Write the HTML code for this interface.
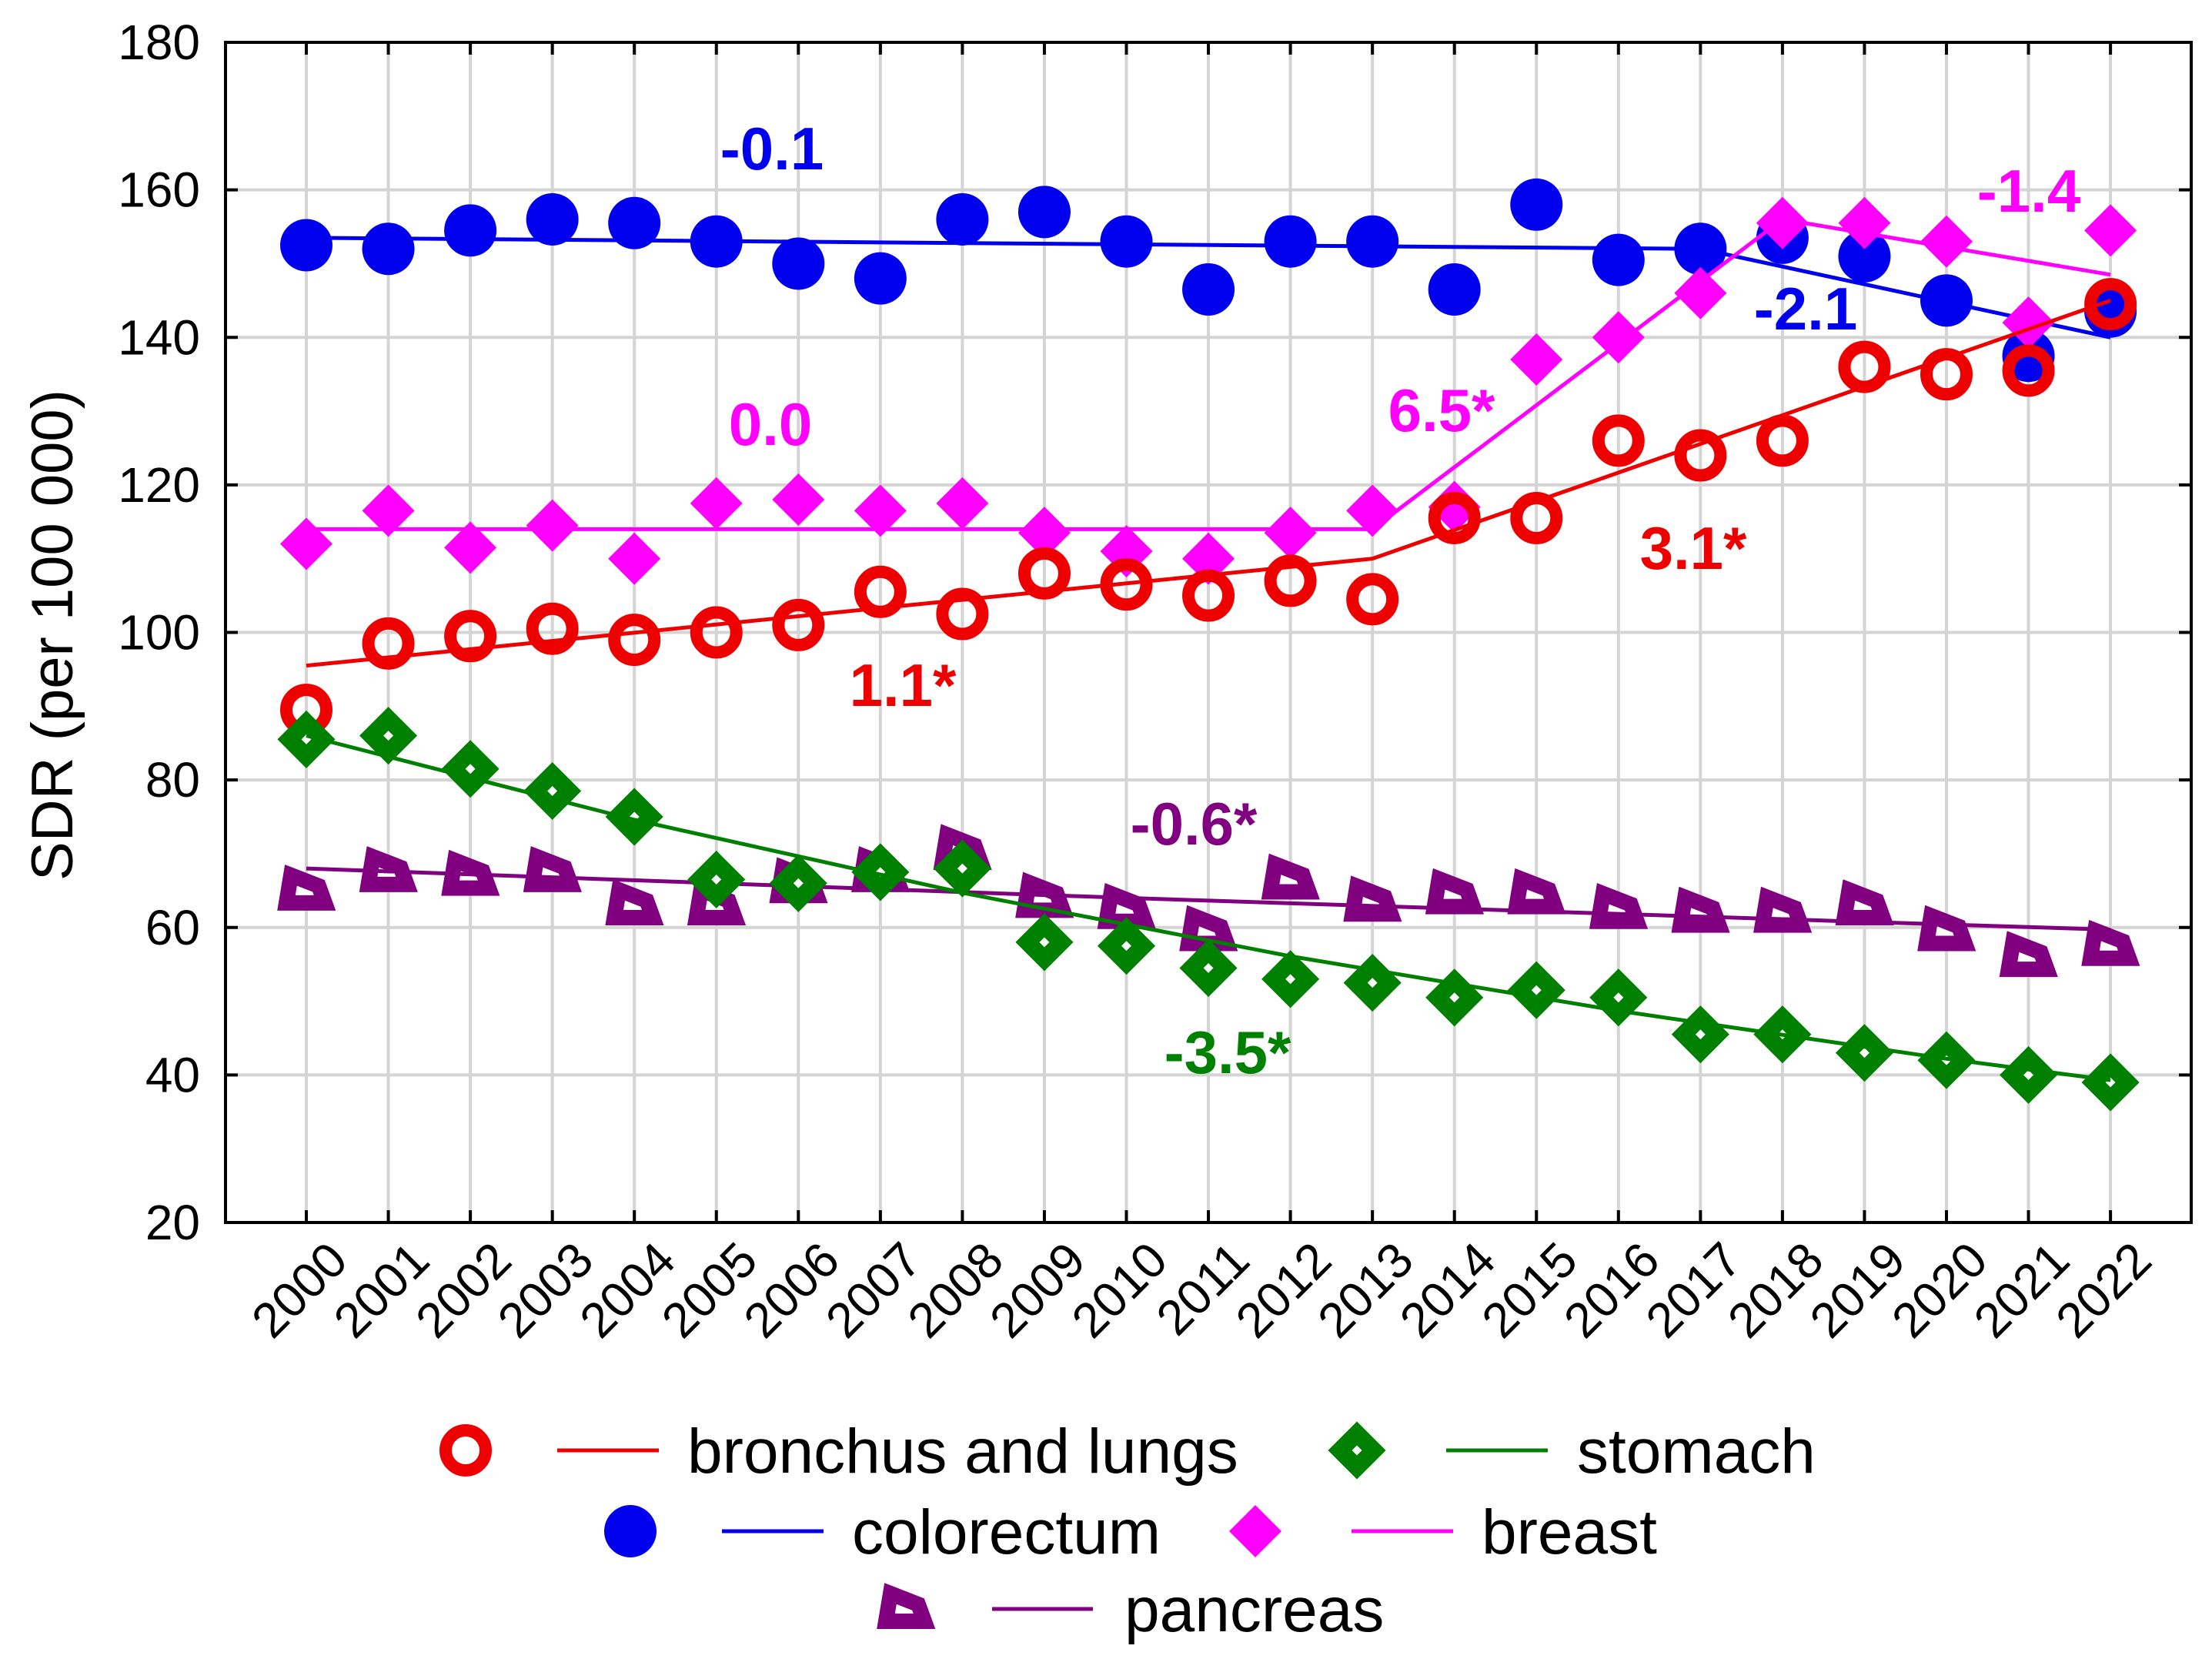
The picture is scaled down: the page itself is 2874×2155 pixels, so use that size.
<!DOCTYPE html>
<html><head><meta charset="utf-8"><style>
html,body{margin:0;padding:0;background:#fff;}
svg{display:block;font-family:"Liberation Sans",Arial,sans-serif;}
</style></head><body>
<svg id="chart" width="2874" height="2155" viewBox="0 0 2874 2155" xmlns="http://www.w3.org/2000/svg">
<g id="grid"></g>
<g id="series"></g>
<rect x="293" y="55" width="2554" height="1533" fill="none" stroke="#000" stroke-width="4"/>
<g id="axes"></g>
<text transform="translate(94,825) rotate(-90)" text-anchor="middle" font-size="76" fill="#000">SDR (per 100 000)</text>
<g id="annots" font-weight="bold" font-size="78" text-anchor="middle">
<text x="1003" y="220" fill="#0000ee">-0.1</text>
<text x="1001" y="578" fill="#ff00ff">0.0</text>
<text x="1873" y="560" fill="#ff00ff">6.5*</text>
<text x="2636" y="275" fill="#ff00ff">-1.4</text>
<text x="2346" y="428" fill="#0000ee">-2.1</text>
<text x="2200" y="739" fill="#ee0000">3.1*</text>
<text x="1173" y="917" fill="#ee0000">1.1*</text>
<text x="1551" y="1097" fill="#800080">-0.6*</text>
<text x="1595" y="1394" fill="#008000">-3.5*</text>
</g>
<g id="legend" font-size="82" fill="#000"></g>
</svg>
<script>
const years = [2000,2001,2002,2003,2004,2005,2006,2007,2008,2009,2010,2011,2012,2013,2014,2015,2016,2017,2018,2019,2020,2021,2022];
const yTicks = [20,40,60,80,100,120,140,160,180];
const lungs = [89.5,98.5,99.5,100.5,99,100,101,105.5,102.5,108,106.5,105,107,104.5,115.5,115.5,126,124,126,136,135,135.5,144.5];
const stomach = [85.5,86,81.5,78.5,75,66.5,66,67.5,68,58,57.5,54.5,53,52.5,50.5,51.5,50.5,45.5,45.5,43,42,40,39];
const colorectum = [152.5,152,154.5,156,155.5,153,150,148,156,157,153,146.5,153,153,146.5,158,150.5,152,153.5,151,145,137.5,143.5];
const breast = [112,116.5,111.5,114.5,110,117.5,118,116.5,117.5,113.5,111,110,113.5,116.5,117,137,140,146,155.5,155.5,153,142,154.5];
const pancreas = [65,67.5,67,67.5,63,63,66,67.5,70.5,64,62.5,59.5,66.5,63.5,64.5,64.5,62.5,62,62,63,59.5,56,57.5];
const lungsTrendX = [2000,2013,2022];
const lungsTrendY = [95.5,110,145];
const colorectumTrendX = [2000,2017,2022];
const colorectumTrendY = [153.5,152,140];
const breastTrendX = [2000,2013,2018,2022];
const breastTrendY = [114,114,156,148.5];
const stomachTrendX = [2000,2004,2008,2012,2016,2020,2022];
const stomachTrendY = [86,74.6,64.7,56.1,48.7,42.2,39.3];
const pancreasTrendX = [2000,2005,2010,2015,2020,2022];
const pancreasTrendY = [68,66,64,62.2,60.4,59.7];

const NS="http://www.w3.org/2000/svg";
const X0=293,X1=2847,Y0=55,Y1=1588;
function xs(yr){return 398+(yr-2000)*106.55;}
function ys(v){return Y1-(v-20)/160*(Y1-Y0);}
function mk(tag,attrs,parent){const e=document.createElementNS(NS,tag);for(const k in attrs)e.setAttribute(k,attrs[k]);parent.appendChild(e);return e;}
const grid=document.getElementById('grid'),axes=document.getElementById('axes'),ser=document.getElementById('series'),leg=document.getElementById('legend');

years.forEach(y=>{
  const l=mk('line',{x1:xs(y),x2:xs(y),y1:Y0,y2:Y1,stroke:'#d4d4d4','stroke-width':4},grid);
  
  
  const t=mk('line',{x1:xs(y),x2:xs(y),y1:Y0,y2:Y0+16,stroke:'#000','stroke-width':4},axes);
  
  
  const t2=mk('line',{x1:xs(y),x2:xs(y),y1:Y1,y2:Y1-16,stroke:'#000','stroke-width':4},axes);
  
  
  const tx=mk('text',{transform:`translate(${xs(y)+24},${Y1+20}) rotate(-45)`,'text-anchor':'end','font-size':64,'dominant-baseline':'hanging'},axes);
  tx.textContent=y;
  
  
});
yTicks.forEach(v=>{
  const l=mk('line',{x1:X0,x2:X1,y1:ys(v),y2:ys(v),stroke:'#d4d4d4','stroke-width':4},grid);
  
  
  const t=mk('line',{x1:X0,x2:X0+16,y1:ys(v),y2:ys(v),stroke:'#000','stroke-width':4},axes);
  
  
  const t2=mk('line',{x1:X1,x2:X1-16,y1:ys(v),y2:ys(v),stroke:'#000','stroke-width':4},axes);
  
  
  const tx=mk('text',{x:260,y:ys(v)+22,'text-anchor':'end','font-size':64},axes);
  tx.textContent=v;
  
  
});

function marker(kind,cx,cy,g){
  let e;
  if(kind==='ring'){e=mk('circle',{cx:cx,cy:cy,r:26,fill:'none',stroke:'#ee0000','stroke-width':16},g);}
  else if(kind==='dot'){e=mk('circle',{cx:cx,cy:cy,r:34,fill:'#0000ee'},g);}
  else if(kind==='pink'){e=mk('polygon',{points:`${cx},${cy-34} ${cx+34},${cy} ${cx},${cy+34} ${cx-34},${cy}`,fill:'#ff00ff'},g);}
  else if(kind==='green'){e=mk('polygon',{points:`${cx},${cy-22} ${cx+22},${cy} ${cx},${cy+22} ${cx-22},${cy}`,fill:'#fff',stroke:'#008000','stroke-width':22,'stroke-linejoin':'miter'},g);}
  else {e=mk('polygon',{points:`${cx-20},${cy-20} ${cx+16},${cy-6} ${cx+24},${cy+16} ${cx-26},${cy+16}`,fill:'#fff',stroke:'#800080','stroke-width':20},g);}
  return e;
}
function trend(xa,ya,color,name){
  const p=mk('polyline',{points:xa.map((x,i)=>xs(x)+','+ys(ya[i])).join(' '),fill:'none',stroke:color,'stroke-width':5},ser);
  
  
}
function points(vals,kind,name){
  const g=mk('g',{},ser);
  
  
  vals.forEach((v,i)=>{
    const m=marker(kind,xs(years[i]),ys(v),g);
    
    
  });
}
trend(colorectumTrendX,colorectumTrendY,'#0000ee','colorectum-trend');
points(colorectum,'dot','colorectum-points');
trend(breastTrendX,breastTrendY,'#ff00ff','breast-trend');
points(breast,'pink','breast-points');
points(lungs,'ring','lungs-points');
trend(lungsTrendX,lungsTrendY,'#ee0000','lungs-trend');
points(pancreas,'tri','pancreas-points');
trend(pancreasTrendX,pancreasTrendY,'#800080','pancreas-trend');
points(stomach,'green','stomach-points');
trend(stomachTrendX,stomachTrendY,'#008000','stomach-trend');

function legendEntry(kind,mx,lx1,lx2,tx,y,color,label,name){
  const g=mk('g',{},leg);
  
  
  marker(kind,mx,y,g);
  mk('line',{x1:lx1,x2:lx2,y1:y,y2:y,stroke:color,'stroke-width':5},g);
  const t=mk('text',{x:tx,y:y+29},g);
  t.textContent=label;
}
legendEntry('ring',605,724,856,893,1884,'#ee0000','bronchus and lungs','legend-entry-lungs');
legendEntry('green',1763,1879,2011,2049,1884,'#008000','stomach','legend-entry-stomach');
legendEntry('dot',819,938,1070,1107,1989,'#0000ee','colorectum','legend-entry-colorectum');
legendEntry('pink',1631,1756,1888,1925,1989,'#ff00ff','breast','legend-entry-breast');
legendEntry('tri',1177,1289,1420,1461,2090,'#800080','pancreas','legend-entry-pancreas');
</script>
</body></html>
